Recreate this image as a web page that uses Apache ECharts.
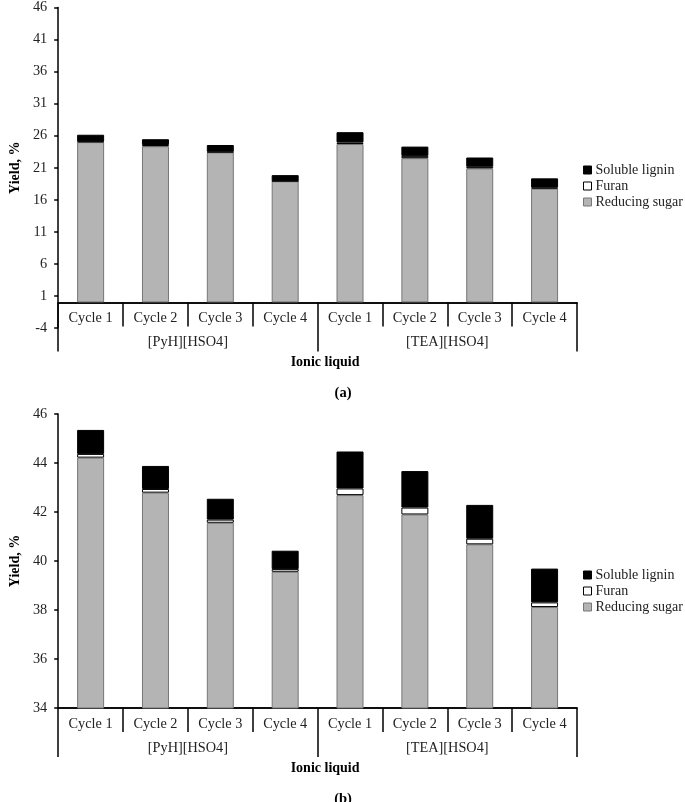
<!DOCTYPE html>
<html>
<head>
<meta charset="utf-8">
<script src="https://cdn.jsdelivr.net/npm/echarts@6/dist/echarts.min.js"></script>
<style>
html,body{margin:0;padding:0;background:#fff;}
#chart{width:685px;height:802px;}
</style>
</head>
<body>
<div id="chart"></div>
<script>
// ---- data ----
var cycles = ['Cycle 1','Cycle 2','Cycle 3','Cycle 4','Cycle 1','Cycle 2','Cycle 3','Cycle 4'];
var liquids = ['[PyH][HSO4]','[TEA][HSO4]'];
var seriesNames = ['Reducing sugar','Furan','Soluble lignin'];
var legendOrder = ['Soluble lignin','Furan','Reducing sugar'];

// (a)
var sugarA  = [25.0, 24.35, 23.4, 18.9, 24.7, 22.5, 20.9, 17.75];
var furanA  = [0.1, 0.2, 0.1, 0.05, 0.25, 0.35, 0.25, 0.15];
var ligninA = [1.05, 0.9, 1.05, 0.9, 1.6, 1.45, 1.45, 1.45];
// (b)
var sugarB  = [44.22, 42.79, 41.56, 39.56, 42.69, 41.9, 40.68, 38.12];
var furanB  = [0.15, 0.15, 0.13, 0.11, 0.27, 0.28, 0.23, 0.19];
var ligninB = [0.98, 0.94, 0.85, 0.75, 1.51, 1.49, 1.38, 1.38];

var axisA = {min: -4, max: 46, interval: 5};
var axisB = {min: 34, max: 46, interval: 2};

// ---- styles ----
var FONT = '"Liberation Serif","Times New Roman",serif';
var TXT = '#222';
var styles = {
  'Reducing sugar': {color: '#b4b4b4', borderColor: '#777777', borderWidth: 1},
  'Furan': {color: '#ffffff', borderColor: '#000000', borderWidth: 1},
  'Soluble lignin': {color: '#000000', borderColor: '#000000', borderWidth: 1}
};

var chart = echarts.init(document.getElementById('chart'));

// grid geometry
var gA = {left: 42, top: 7.46, width: 535, height: 320.6};
var gB = {left: 42, top: 414, width: 535, height: 294};
var zeroOffsetA = -(gA.height * (0 - axisA.min) / (axisA.max - axisA.min));

function cycleAxis(gi, off) {
  return {
    type: 'category', gridIndex: gi, data: cycles, position: 'bottom', offset: off,
    axisLine: {onZero: false, lineStyle: {color: '#000', width: 1.5}},
    axisTick: {show: true, length: 24, interval: 0, alignWithLabel: false, lineStyle: {color: '#000', width: 1.5}},
    axisLabel: {interval: 0, margin: 9, fontFamily: FONT, fontSize: 14.3, color: TXT}
  };
}
function groupAxis(gi, off) {
  return {
    type: 'category', gridIndex: gi, data: liquids, position: 'bottom', offset: off,
    axisLine: {onZero: false, lineStyle: {color: '#000', width: 1.5}},
    axisTick: {show: true, length: 49, interval: 0, alignWithLabel: false, lineStyle: {color: '#000', width: 1.5}},
    axisLabel: {interval: 0, margin: 33, fontFamily: FONT, fontSize: 14.3, color: TXT},
    name: 'Ionic liquid', nameLocation: 'middle', nameGap: 53,
    nameTextStyle: {fontFamily: FONT, fontSize: 14, fontWeight: 'bold', color: '#000', padding: [0, 0, 0, 15]}
  };
}
function valAxis(gi, ax) {
  return {
    type: 'value', gridIndex: gi, min: ax.min, max: ax.max, interval: ax.interval,
    axisLine: {show: true, lineStyle: {color: '#000', width: 1.5}},
    axisTick: {show: true, length: 4, lineStyle: {color: '#000', width: 1.5}},
    splitLine: {show: false},
    axisLabel: {margin: 11, fontFamily: FONT, fontSize: 14.3, color: TXT},
    name: 'Yield, %', nameLocation: 'middle', nameGap: 27, nameRotate: 90,
    nameTextStyle: {fontFamily: FONT, fontSize: 14, fontWeight: 'bold', color: '#000'}
  };
}
function mkSeries(name, data, xi, yi, stack) {
  return {
    type: 'bar', name: name, data: data, xAxisIndex: xi, yAxisIndex: yi,
    stack: stack, barWidth: 27, itemStyle: styles[name], emphasis: {disabled: true},
    animation: false
  };
}
function mkLegend(top) {
  return {
    orient: 'vertical', left: 583, top: top, itemWidth: 8, itemHeight: 8, itemGap: 0,
    icon: 'rect', padding: 0,
    data: legendOrder.map(function (n) { return {name: n, itemStyle: styles[n]}; }),
    textStyle: {fontFamily: FONT, fontSize: 14, color: TXT, lineHeight: 16, padding: [0,0,0,-1]},
    selectedMode: false
  };
}

chart.setOption({
  animation: false,
  backgroundColor: '#fff',
  title: [
    {text: '(a)', left: 338, top: 381, textAlign: 'center',
     textStyle: {fontFamily: FONT, fontSize: 14.5, fontWeight: 'bold', color: '#000'}},
    {text: '(b)', left: 338, top: 787, textAlign: 'center',
     textStyle: {fontFamily: FONT, fontSize: 14.5, fontWeight: 'bold', color: '#000'}}
  ],
  legend: [mkLegend(162), mkLegend(567)],
  grid: [
    {left: gA.left, top: gA.top, width: gA.width, height: gA.height, containLabel: false},
    {left: gB.left, top: gB.top, width: gB.width, height: gB.height, containLabel: false}
  ],
  xAxis: [cycleAxis(0, zeroOffsetA), groupAxis(0, zeroOffsetA), cycleAxis(1, 0), groupAxis(1, 0)],
  yAxis: [valAxis(0, axisA), valAxis(1, axisB)],
  series: [
    mkSeries('Reducing sugar', sugarA, 0, 0, 'a'),
    mkSeries('Furan', furanA, 0, 0, 'a'),
    mkSeries('Soluble lignin', ligninA, 0, 0, 'a'),
    mkSeries('Reducing sugar', sugarB, 2, 1, 'b'),
    mkSeries('Furan', furanB, 2, 1, 'b'),
    mkSeries('Soluble lignin', ligninB, 2, 1, 'b')
  ]
});
</script>
</body>
</html>
